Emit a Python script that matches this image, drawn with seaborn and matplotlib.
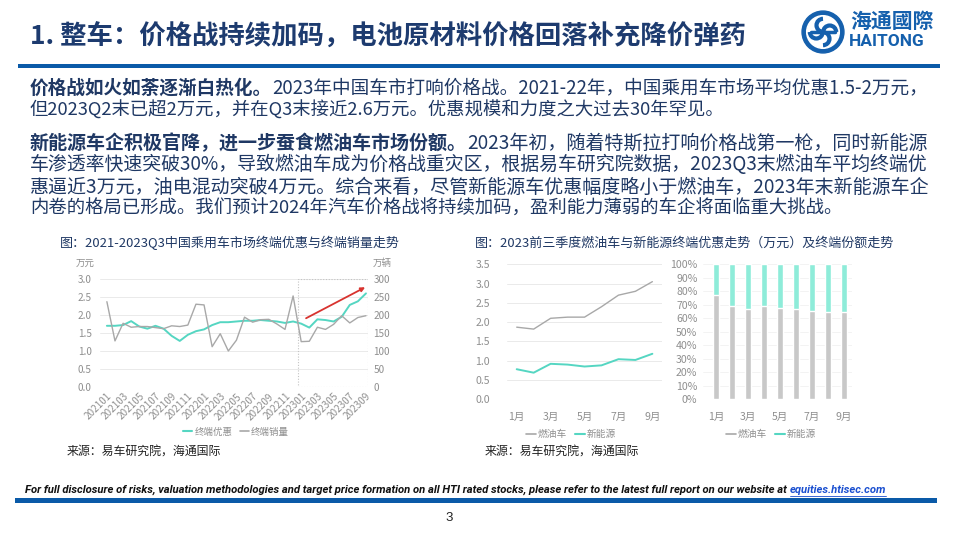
import matplotlib
matplotlib.use("Agg")
import matplotlib.pyplot as plt
from matplotlib.lines import Line2D
from matplotlib.patches import Rectangle, Circle, Arc
import seaborn as sns
import numpy as np
import pandas as pd

# ---------------- data ----------------
months_l = [f"{y}{m:02d}" for y in (2021, 2022, 2023) for m in range(1, 13)][:33]
discount_total = [1.70, 1.70, 1.72, 1.83, 1.68, 1.62, 1.70, 1.62, 1.42, 1.28, 1.45,
                  1.55, 1.60, 1.72, 1.80, 1.80, 1.82, 1.84, 1.84, 1.86, 1.84, 1.82,
                  1.78, 1.82, 1.76, 1.65, 1.88, 1.86, 1.82, 1.95, 2.28, 2.38, 2.60]
sales_total = [237, 128, 177, 166, 168, 168, 165, 162, 170, 168, 172, 230, 228, 112,
               148, 100, 130, 194, 180, 187, 188, 175, 160, 253, 126, 127, 166, 160,
               174, 198, 178, 193, 198]
months_r = ["1月", "2月", "3月", "4月", "5月", "6月", "7月", "8月", "9月"]
ice_discount = [1.87, 1.82, 2.10, 2.13, 2.13, 2.40, 2.70, 2.80, 3.05]
nev_discount = [0.78, 0.69, 0.92, 0.90, 0.85, 0.88, 1.04, 1.02, 1.18]
ice_share = [77.0, 69.0, 66.7, 69.0, 67.5, 66.7, 65.5, 64.5, 64.3]
nev_share = [100 - v for v in ice_share]

W, H = 960, 540
CJK = ["Noto Sans CJK SC", "DejaVu Sans"]
TEAL = "#55d6c2"
TEAL_BAR = "#8eecd9"
GRAY_LINE = "#a8a8a8"
GRAY_BAR = "#c8c8c8"
TICK = "#8f8f8f"
NAVY = "#1f3864"
BLUE = "#0a5aa8"

sns.set_theme(style="white")
plt.rcParams["font.family"] = CJK
plt.rcParams["axes.unicode_minus"] = False

fig = plt.figure(figsize=(9.6, 5.4), dpi=100)
fig.patch.set_facecolor("white")
R = fig.canvas.get_renderer()


def axes_px(l, t, r, b):
    return fig.add_axes([l / W, 1 - b / H, (r - l) / W, (b - t) / H])


def measure(txt, size, weight="normal", family=CJK, style="normal"):
    t = fig.text(0, 0, txt, fontsize=size, fontweight=weight, family=family, style=style)
    w = t.get_window_extent(R).width
    t.remove()
    return w


def text_runs(x, y, parts, size, color=NAVY, target=None):
    if target is not None:
        nat = sum(measure(s, size, "bold" if b else "normal") for s, b in parts)
        size = size * target / nat
    for s, b in parts:
        t = fig.text(x / W, 1 - y / H, s, fontsize=size, fontweight="bold" if b else "normal",
                     color=color, va="center", ha="left", family=CJK)
        x += t.get_window_extent(R).width
    return x

# ---------------- header ----------------
fig.text(30 / W, 1 - 37 / H, "1. 整车：价格战持续加码，电池原材料价格回落补充降价弹药",
         fontsize=19, fontweight="bold", color="#1d3b6f", va="center", ha="left", family=CJK)
fig.add_artist(Rectangle((18 / W, 1 - 68 / H), (940 - 18) / W, 4.5 / H,
                         transform=fig.transFigure, color=BLUE, lw=0))

# logo
lax = axes_px(801, 10, 845, 54)
lax.set_xlim(-1.05, 1.05); lax.set_ylim(-1.05, 1.05); lax.set_aspect("equal"); lax.axis("off")
lax.add_patch(Circle((0, 0), 1.0, color="#1560ad"))
lax.add_patch(Circle((0, 0), 0.78, color="white"))
for ang in (0, 90, 180, 270):
    lax.add_patch(Arc((0.32 * np.cos(np.radians(ang)), 0.32 * np.sin(np.radians(ang))), 0.62, 0.62,
                      theta1=ang, theta2=ang + 180, color="#1560ad", lw=3))
lax.plot([-0.55, 0.55], [0, 0], color="#1560ad", lw=2.5)
fig.text(850 / W, 1 - 21 / H, "海通國際", fontsize=15, fontweight="bold", color="#1560ad",
         va="center", ha="left", family=CJK)
fig.text(849 / W, 1 - 42 / H, "HAITONG", fontsize=12.5, fontweight="bold", color="#1560ad",
         va="center", ha="left", family=["Roboto", "DejaVu Sans"])

# ---------------- body text ----------------
BS = 13.2
text_runs(30, 88, [("价格战如火如荼逐渐白热化。", True),
                   ("2023年中国车市打响价格战。2021-22年，中国乘用车市场平均优惠1.5-2万元，", False)],
          BS, target=900)
text_runs(30, 110, [("但2023Q2末已超2万元，并在Q3末接近2.6万元。优惠规模和力度之大过去30年罕见。", False)], BS)
text_runs(30, 143, [("新能源车企积极官降，进一步蚕食燃油车市场份额。", True),
                    ("2023年初，随着特斯拉打响价格战第一枪，同时新能源", False)], BS, target=902)
text_runs(30, 165, [("车渗透率快速突破30%，导致燃油车成为价格战重灾区，根据易车研究院数据，2023Q3末燃油车平均终端优", False)],
          BS, target=902)
text_runs(30, 187, [("惠逼近3万元，油电混动突破4万元。综合来看，尽管新能源车优惠幅度略小于燃油车，2023年末新能源车企", False)],
          BS, target=902)
text_runs(30, 209, [("内卷的格局已形成。我们预计2024年汽车价格战将持续加码，盈利能力薄弱的车企将面临重大挑战。", False)], BS)

# ---------------- left chart ----------------
fig.text(60 / W, 1 - 243 / H, "图：2021-2023Q3中国乘用车市场终端优惠与终端销量走势",
         fontsize=9.4, color=NAVY, va="center", ha="left", family=CJK)

df_l = pd.DataFrame({"idx": np.arange(len(months_l)), "disc": discount_total, "sales": sales_total})
ax1 = axes_px(100, 279, 368, 387)
sns.lineplot(data=df_l, x="idx", y="disc", ax=ax1, color=TEAL, lw=1.4)
ax1.set_ylim(0, 3.0)
ax1.set_xlim(-0.85, 32.25)
ax1.set_yticks(np.arange(0, 3.01, 0.5))
ax1.set_yticklabels([f"{v:.1f}" for v in np.arange(0, 3.01, 0.5)])
ax1.set_xticks(np.arange(0, 33, 2))
ax1.set_xticklabels(months_l[::2], rotation=45, ha="right", rotation_mode="anchor")
ax1.set_xlabel(""); ax1.set_ylabel("")
ax1.yaxis.grid(True, color="#e6e6e6", lw=0.6)
ax1.tick_params(axis="both", length=0, labelsize=7.2, labelcolor=TICK)
ax1.tick_params(axis="y", pad=6)
ax1.tick_params(axis="x", pad=3, labelsize=7.2)
for s in ax1.spines.values():
    s.set_visible(False)

ax2 = ax1.twinx()
sns.lineplot(data=df_l, x="idx", y="sales", ax=ax2, color=GRAY_LINE, lw=1.0)
ax2.set_ylim(0, 300)
ax2.set_yticks(np.arange(0, 301, 50))
ax2.set_ylabel("")
ax2.tick_params(axis="y", length=0, labelsize=7.2, labelcolor=TICK, pad=4)
for s in ax2.spines.values():
    s.set_visible(False)
ax2.add_patch(Rectangle((23.65, 0), 32.25 - 23.65 - 0.02, 300, fill=False, ec="#c4c4c4",
                        ls=(0, (1, 1.5)), lw=0.8))
ax1.annotate("", xy=(31.9, 2.77), xytext=(24.6, 1.91),
             arrowprops=dict(arrowstyle="-|>", color="#d8332f", lw=1.3, mutation_scale=6,
                             shrinkA=0, shrinkB=0))
fig.text(85 / W, 1 - 263 / H, "万元", fontsize=6.8, color=TICK, va="center", ha="center", family=CJK)
fig.text(382 / W, 1 - 263 / H, "万辆", fontsize=6.8, color=TICK, va="center", ha="center", family=CJK)
fig.legend(handles=[Line2D([], [], color=TEAL, lw=1.5), Line2D([], [], color=GRAY_LINE, lw=1.2)],
           labels=["终端优惠", "终端销量"], loc="center", bbox_to_anchor=(236 / W, 1 - 432 / H),
           ncol=2, frameon=False, fontsize=6.8, handlelength=1.0, handletextpad=0.2,
           columnspacing=0.8, labelcolor=TICK)
fig.text(67 / W, 1 - 451 / H, "来源：易车研究院，海通国际", fontsize=8.6, color="#222222",
         va="center", ha="left", family=CJK)

# ---------------- right chart ----------------
fig.text(475 / W, 1 - 243 / H, "图：2023前三季度燃油车与新能源终端优惠走势（万元）及终端份额走势",
         fontsize=9.4, color=NAVY, va="center", ha="left", family=CJK)

df_r = pd.DataFrame({"idx": np.arange(9), "month": months_r, "ice": ice_discount, "nev": nev_discount,
                     "ice_share": ice_share, "total": [a + b for a, b in zip(ice_share, nev_share)]})
ax3 = axes_px(506.7, 264.3, 661.7, 399.3)
sns.lineplot(data=df_r, x="idx", y="ice", ax=ax3, color=GRAY_LINE, lw=1.0)
sns.lineplot(data=df_r, x="idx", y="nev", ax=ax3, color=TEAL, lw=1.4)
ax3.set_ylim(0, 3.5)
ax3.set_xlim(-0.59, 8.55)
ax3.set_yticks(np.arange(0, 3.51, 0.5))
ax3.set_yticklabels([f"{v:.1f}" for v in np.arange(0, 3.51, 0.5)])
ax3.set_xticks([0, 2, 4, 6, 8])
ax3.set_xticklabels(months_r[::2])
ax3.set_xlabel(""); ax3.set_ylabel("")
ax3.yaxis.grid(True, color="#e6e6e6", lw=0.6)
ax3.tick_params(axis="both", length=0, labelsize=7.6, labelcolor=TICK)
ax3.tick_params(axis="y", pad=12)
ax3.tick_params(axis="x", pad=9)
for s in ax3.spines.values():
    s.set_visible(False)
fig.legend(handles=[Line2D([], [], color=GRAY_LINE, lw=1.2), Line2D([], [], color=TEAL, lw=1.5)],
           labels=["燃油车", "新能源"], loc="center", bbox_to_anchor=(571 / W, 1 - 434 / H),
           ncol=2, frameon=False, fontsize=7.0, handlelength=1.0, handletextpad=0.2,
           columnspacing=0.8, labelcolor=TICK)

ax4 = axes_px(703, 264.3, 852, 399.3)
sns.barplot(data=df_r, x="month", y="total", ax=ax4, color=TEAL_BAR, width=0.375, saturation=1)
sns.barplot(data=df_r, x="month", y="ice_share", ax=ax4, color=GRAY_BAR, width=0.375, saturation=1)
ax4.set_ylim(0, 100)
ax4.set_xlim(-0.81, 8.5)
ax4.set_yticks(np.arange(0, 101, 10))
ax4.set_yticklabels([f"{v}%" for v in range(0, 101, 10)])
ax4.set_xticks([0, 2, 4, 6, 8])
ax4.set_xticklabels(months_r[::2])
ax4.set_xlabel(""); ax4.set_ylabel("")
ax4.yaxis.grid(True, color="#eeeeee", lw=0.5)
ax4.set_axisbelow(True)
ax4.tick_params(axis="both", length=0, labelsize=7.6, labelcolor=TICK)
ax4.tick_params(axis="y", pad=4)
ax4.tick_params(axis="x", pad=9)
for s in ax4.spines.values():
    s.set_visible(False)
fig.legend(handles=[Line2D([], [], color=GRAY_LINE, lw=1.2), Line2D([], [], color=TEAL, lw=1.5)],
           labels=["燃油车", "新能源"], loc="center", bbox_to_anchor=(771 / W, 1 - 434 / H),
           ncol=2, frameon=False, fontsize=7.0, handlelength=1.0, handletextpad=0.2,
           columnspacing=0.8, labelcolor=TICK)
fig.text(485 / W, 1 - 451 / H, "来源：易车研究院，海通国际", fontsize=8.6, color="#222222",
         va="center", ha="left", family=CJK)

# ---------------- footer ----------------
FF = ["Roboto", "DejaVu Sans"]
disc = "For full disclosure of risks, valuation methodologies and target price formation on all HTI rated stocks, please refer to the latest full report on our website at "
link = "equities.htisec.com"
fsz = 7.6
fsz = fsz * 870 / (measure(disc, fsz, "bold", FF, "italic") + measure(link, fsz, "bold", FF, "italic"))
t = fig.text(25 / W, 1 - 490 / H, disc, fontsize=fsz, fontweight="bold", style="italic",
             color="#111111", va="center", ha="left", family=FF)
w1 = t.get_window_extent(R).width
t2 = fig.text((25 + w1) / W, 1 - 490 / H, link, fontsize=fsz, fontweight="bold",
              style="italic", color="#1a4fd0", va="center", ha="left", family=FF)
w2 = t2.get_window_extent(R).width
fig.add_artist(Line2D([(25 + w1) / W, (25 + w1 + w2) / W], [1 - 495.5 / H, 1 - 495.5 / H],
                      transform=fig.transFigure, color="#1a4fd0", lw=0.6))
fig.add_artist(Rectangle((15 / W, 1 - 503 / H), (937 - 15) / W, 5 / H,
                         transform=fig.transFigure, color=BLUE, lw=0))
fig.text(449 / W, 1 - 518 / H, "3", fontsize=9.5, color="#222222", va="center", ha="center",
         family=["Liberation Sans", "DejaVu Sans"])

fig.savefig("out.png", dpi=100, facecolor="white")
